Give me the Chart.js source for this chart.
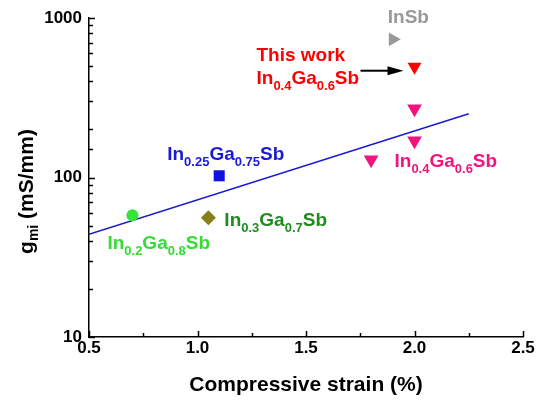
<!DOCTYPE html>
<html>
<head>
<meta charset="utf-8">
<script src="https://cdn.jsdelivr.net/npm/chart.js@4.4.1/dist/chart.umd.min.js"></script>
<style>
  html, body { margin: 0; padding: 0; background: #fff; }
  canvas { display: block; }
</style>
</head>
<body>
<canvas id="gmChart" width="536" height="401"></canvas>
<script>
// values (strain in %, gm in mS/mm)
const in02Strain = [0.7];
const in02Gm = [58];
const in03Strain = [1.05];
const in03Gm = [56];
const in025Strain = [1.1];
const in025Gm = [102.5];
const in04Strain = [1.8, 2.0, 2.0];
const in04Gm = [129, 170, 270];
const thisWorkStrain = [2.0];
const thisWorkGm = [495];
const inSbStrain = [1.9];
const inSbGm = [735];
const fitStrain = [0.5, 2.25];
const fitGm = [44, 251];

const xTickLabels = ['0.5', '1.0', '1.5', '2.0', '2.5'];
const yTickLabels = ['10', '100', '1000'];

const FONT = "Arial, 'Liberation Sans', sans-serif";

function zip(xs, ys) {
    return xs.map((x, i) => ({ x: x, y: ys[i] }));
}

// text labels next to the points: [text, isSubscript]
const notes = [
    { ds: 5, idx: 0, dx: -5, dy: -16, color: '#999999', parts: [['InSb', 0]] },
    { ds: 4, idx: 0, dx: -158, dy: -6, color: '#ff0000', parts: [['This work', 0]] },
    { ds: 4, idx: 0, dx: -158, dy: 17, color: '#ff0000', parts: [['In', 0], ['0.4', 1], ['Ga', 0], ['0.6', 1], ['Sb', 0]] },
    { ds: 2, idx: 0, dx: -52, dy: -16, color: '#1a1ad6', parts: [['In', 0], ['0.25', 1], ['Ga', 0], ['0.75', 1], ['Sb', 0]] },
    { ds: 3, idx: 1, dx: -20, dy: 26, color: '#f0147f', parts: [['In', 0], ['0.4', 1], ['Ga', 0], ['0.6', 1], ['Sb', 0]] },
    { ds: 1, idx: 0, dx: 16, dy: 8, color: '#1f8c1f', parts: [['In', 0], ['0.3', 1], ['Ga', 0], ['0.7', 1], ['Sb', 0]] },
    { ds: 0, idx: 0, dx: -25, dy: 34, color: '#33dd33', parts: [['In', 0], ['0.2', 1], ['Ga', 0], ['0.8', 1], ['Sb', 0]] }
];

function drawRich(ctx, parts, x, y, color) {
    ctx.fillStyle = color;
    ctx.textBaseline = 'alphabetic';
    ctx.textAlign = 'left';
    parts.forEach(p => {
        if (p[1]) {
            ctx.font = 'bold 13px ' + FONT;
            ctx.fillText(p[0], x, y + 6);
        } else {
            ctx.font = 'bold 19px ' + FONT;
            ctx.fillText(p[0], x, y);
        }
        x += ctx.measureText(p[0]).width;
    });
}

const extras = {
    id: 'extras',
    afterDraw(chart) {
        const ctx = chart.ctx;
        const area = chart.chartArea;
        const xs = chart.scales.x;
        const ys = chart.scales.y;

        // inward tick marks
        ctx.save();
        ctx.strokeStyle = '#000';
        ctx.lineWidth = 1.5;
        xs.ticks.forEach(t => {
            const major = xTickLabels.some(l => Math.abs(Number(l) - t.value) < 1e-6);
            const px = Math.round(xs.getPixelForValue(t.value)) + 0.5;
            ctx.beginPath();
            ctx.moveTo(px, area.bottom);
            ctx.lineTo(px, area.bottom - (major ? 6 : 4));
            ctx.stroke();
        });
        ys.ticks.forEach(t => {
            const major = yTickLabels.some(l => Math.abs(Number(l) - t.value) < 1e-6);
            const py = Math.round(ys.getPixelForValue(t.value)) + 0.5;
            ctx.beginPath();
            ctx.moveTo(area.left, py);
            ctx.lineTo(area.left + (major ? 6 : 4), py);
            ctx.stroke();
        });
        ctx.restore();

        // point labels
        ctx.save();
        notes.forEach(n => {
            const el = chart.getDatasetMeta(n.ds).data[n.idx];
            drawRich(ctx, n.parts, el.x + n.dx, el.y + n.dy, n.color);
        });

        // arrow to this work
        const red = chart.getDatasetMeta(4).data[0];
        const ay = red.y + 4;
        ctx.strokeStyle = '#000';
        ctx.fillStyle = '#000';
        ctx.lineWidth = 2;
        ctx.beginPath();
        ctx.moveTo(red.x - 54, ay);
        ctx.lineTo(red.x - 24, ay);
        ctx.stroke();
        ctx.beginPath();
        ctx.moveTo(red.x - 11, ay);
        ctx.lineTo(red.x - 27, ay - 4.5);
        ctx.lineTo(red.x - 27, ay + 4.5);
        ctx.closePath();
        ctx.fill();

        // axis titles
        ctx.fillStyle = '#000';
        ctx.textAlign = 'center';
        ctx.font = 'bold 21px ' + FONT;
        ctx.fillText('Compressive strain (%)', (area.left + area.right) / 2, area.bottom + 54);

        ctx.translate(33, (area.top + area.bottom) / 2 + 14);
        ctx.rotate(-Math.PI / 2);
        ctx.textAlign = 'left';
        ctx.font = 'bold 21px ' + FONT;
        const wg = ctx.measureText('g').width;
        const wrest = ctx.measureText(' (mS/mm)').width;
        ctx.font = 'bold 14px ' + FONT;
        const wmi = ctx.measureText('mi').width;
        let x0 = -(wg + wmi + wrest) / 2;
        ctx.font = 'bold 21px ' + FONT;
        ctx.fillText('g', x0, 0);
        ctx.font = 'bold 14px ' + FONT;
        ctx.fillText('mi', x0 + wg, 5);
        ctx.font = 'bold 21px ' + FONT;
        ctx.fillText(' (mS/mm)', x0 + wg + wmi, 0);
        ctx.restore();
    }
};

const ctx = document.getElementById('gmChart').getContext('2d');

new Chart(ctx, {
    type: 'scatter',
    data: {
        datasets: [
            { data: zip(in02Strain, in02Gm), pointStyle: 'circle', pointRadius: 6, backgroundColor: '#33e633', borderColor: '#33e633', borderWidth: 0 },
            { data: zip(in03Strain, in03Gm), pointStyle: 'rectRot', pointRadius: 7.5, backgroundColor: '#85801a', borderColor: '#85801a', borderWidth: 0 },
            { data: zip(in025Strain, in025Gm), pointStyle: 'rect', pointRadius: 7.8, backgroundColor: '#1010e0', borderColor: '#1010e0', borderWidth: 0 },
            { data: zip(in04Strain, in04Gm), pointStyle: 'triangle', rotation: 180, pointRadius: 8.5, backgroundColor: '#f0147f', borderColor: '#f0147f', borderWidth: 0 },
            { data: zip(thisWorkStrain, thisWorkGm), pointStyle: 'triangle', rotation: 180, pointRadius: 8, backgroundColor: '#ff0000', borderColor: '#ff0000', borderWidth: 0 },
            { data: zip(inSbStrain, inSbGm), pointStyle: 'triangle', rotation: 90, pointRadius: 8, backgroundColor: '#999999', borderColor: '#999999', borderWidth: 0 },
            { data: zip(fitStrain, fitGm), showLine: true, pointRadius: 0, borderColor: '#1a1ad0', borderWidth: 1.5, fill: false }
        ]
    },
    options: {
        responsive: false,
        animation: false,
        devicePixelRatio: 1,
        layout: { padding: { top: 18, right: 13, left: 0, bottom: 0 } },
        plugins: {
            legend: { display: false },
            tooltip: { enabled: false }
        },
        scales: {
            x: {
                type: 'linear',
                min: 0.5,
                max: 2.5,
                afterFit: function (scale) { scale.height = 64; },
                grid: { display: false, drawTicks: false },
                border: { display: true, color: '#000', width: 1.5 },
                ticks: {
                    stepSize: 0.25,
                    autoSkip: false,
                    maxRotation: 0,
                    padding: 1,
                    color: '#000',
                    font: { family: FONT, size: 17, weight: 'bold' },
                    callback: function (v) {
                        const l = xTickLabels.find(s => Math.abs(Number(s) - v) < 1e-6);
                        return l || '';
                    }
                }
            },
            y: {
                type: 'logarithmic',
                min: 10,
                max: 1000,
                afterFit: function (scale) { scale.width = 89; },
                grid: { display: false, drawTicks: false },
                border: { display: true, color: '#000', width: 1.5 },
                ticks: {
                    autoSkip: false,
                    padding: 7,
                    color: '#000',
                    font: { family: FONT, size: 17, weight: 'bold' },
                    callback: function (v) {
                        const l = yTickLabels.find(s => Math.abs(Number(s) - v) < 1e-6);
                        return l || '';
                    }
                }
            }
        }
    },
    plugins: [extras]
});
</script>
</body>
</html>
